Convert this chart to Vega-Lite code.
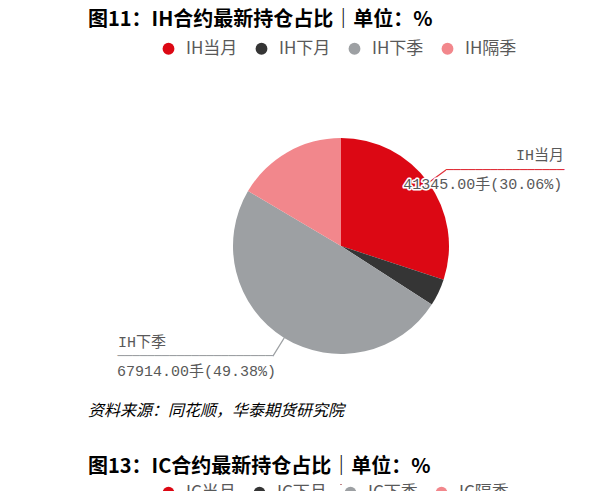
{
  "$schema": "https://vega.github.io/schema/vega-lite/v6.json",
  "background": "white",
  "padding": {"left": 88, "top": 10, "right": 5, "bottom": 0},
  "datasets": {
    "ih": [
      {"name": "IH当月", "value": 41345, "k": 1, "label": "41345.00手(30.06%)"},
      {"name": "IH下月", "value": 5584, "k": 2, "label": ""},
      {"name": "IH下季", "value": 67914, "k": 3, "label": "67914.00手(49.38%)"},
      {"name": "IH隔季", "value": 22698, "k": 4, "label": ""}
    ],
    "ic": [
      {"name": "IC当月"},
      {"name": "IC下月"},
      {"name": "IC下季"},
      {"name": "IC隔季"}
    ]
  },
  "title": {
    "text": "图11：IH合约最新持仓占比｜单位：%",
    "anchor": "start",
    "font": "Noto Sans CJK SC",
    "fontSize": 20,
    "fontWeight": "bold",
    "color": "#000000",
    "offset": 10
  },
  "vconcat": [
    {
      "width": 506,
      "height": 306,
      "data": {"name": "ih"},
      "title": {
        "text": "资料来源：同花顺，华泰期货研究院",
        "orient": "bottom",
        "anchor": "start",
        "font": "Noto Sans CJK SC",
        "fontSize": 16,
        "fontStyle": "italic",
        "fontWeight": "normal",
        "color": "#000000",
        "offset": 4
      },
      "encoding": {
        "theta": {"field": "value", "type": "quantitative", "stack": true},
        "order": {"field": "k", "type": "quantitative"},
        "detail": {"field": "name", "type": "nominal"}
      },
      "layer": [
        {
          "mark": {"type": "arc", "radius": 108},
          "encoding": {
            "color": {
              "field": "name",
              "type": "nominal",
              "scale": {
                "domain": ["IH当月", "IH下月", "IH下季", "IH隔季"],
                "range": ["#DC0814", "#353535", "#9DA0A3", "#F2878C"]
              },
              "legend": {
                "orient": "none",
                "legendX": 72,
                "legendY": -53,
                "direction": "horizontal",
                "title": null,
                "symbolType": "circle",
                "symbolSize": 140,
                "symbolStrokeWidth": 0,
                "labelFont": "Noto Sans CJK SC",
                "labelFontSize": 17,
                "labelColor": "#595959",
                "labelOffset": 9,
                "columnPadding": 15,
                "padding": 0
              }
            }
          }
        },
        {
          "mark": {"type": "arc", "radius": 129.5, "radius2": 108, "padAngle": 3.1, "filled": false, "strokeWidth": 1.2},
          "encoding": {
            "color": {
              "condition": [
                {"test": "datum.name === 'IH当月'", "value": "#E0303A"},
                {"test": "datum.name === 'IH下季'", "value": "#9DA0A3"}
              ],
              "value": "transparent"
            }
          }
        },
        {
          "mark": {"type": "text", "radius": 129.5, "align": "left", "baseline": "alphabetic", "dy": 4.3, "font": "DejaVu Sans Mono", "fontSize": 12.3},
          "encoding": {
            "text": {"condition": {"test": "datum.name === 'IH当月'", "value": "────────────────"}, "value": ""},
            "color": {"value": "#E0303A"}
          }
        },
        {
          "mark": {"type": "text", "radius": 129.5, "align": "right", "baseline": "alphabetic", "dy": 4.3, "font": "DejaVu Sans Mono", "fontSize": 12.3},
          "encoding": {
            "text": {"condition": {"test": "datum.name === 'IH下季'", "value": "─────────────────────"}, "value": ""},
            "color": {"value": "#9DA0A3"}
          }
        },
        {
          "mark": {"type": "text", "radius": 129.5, "align": "right", "baseline": "alphabetic", "dx": 118, "dy": -10, "font": "'Liberation Mono', 'Noto Sans CJK SC'", "fontSize": 15},
          "encoding": {
            "text": {"condition": {"test": "datum.name === 'IH当月'", "field": "name", "type": "nominal"}, "value": ""},
            "color": {"value": "#595959"}
          }
        },
        {
          "mark": {"type": "text", "radius": 129.5, "align": "left", "baseline": "alphabetic", "dx": -155, "dy": -8.7, "font": "'Liberation Mono', 'Noto Sans CJK SC'", "fontSize": 15},
          "encoding": {
            "text": {"condition": {"test": "datum.name === 'IH下季'", "field": "name", "type": "nominal"}, "value": ""},
            "color": {"value": "#595959"}
          }
        },
        {
          "mark": {"type": "text", "radius": 129.5, "align": "right", "baseline": "alphabetic", "dx": 116.4, "dy": 19, "font": "'Liberation Mono', 'Noto Sans CJK SC'", "fontSize": 15, "stroke": "white", "strokeWidth": 3, "strokeJoin": "round"},
          "encoding": {
            "text": {"condition": {"test": "datum.name === 'IH当月'", "field": "label", "type": "nominal"}, "value": ""},
            "color": {"value": "#ffffff"}
          }
        },
        {
          "mark": {"type": "text", "radius": 129.5, "align": "right", "baseline": "alphabetic", "dx": 116.4, "dy": 19, "font": "'Liberation Mono', 'Noto Sans CJK SC'", "fontSize": 15},
          "encoding": {
            "text": {"condition": {"test": "datum.name === 'IH当月'", "field": "label", "type": "nominal"}, "value": ""},
            "color": {"value": "#595959"}
          }
        },
        {
          "mark": {"type": "text", "radius": 129.5, "align": "left", "baseline": "alphabetic", "dx": -156, "dy": 20, "font": "'Liberation Mono', 'Noto Sans CJK SC'", "fontSize": 15},
          "encoding": {
            "text": {"condition": {"test": "datum.name === 'IH下季'", "field": "label", "type": "nominal"}, "value": ""},
            "color": {"value": "#595959"}
          }
        }
      ]
    },
    {
      "width": 506,
      "height": 1,
      "data": {"name": "ic"},
      "title": {
        "text": "图13：IC合约最新持仓占比｜单位：%",
        "anchor": "start",
        "font": "Noto Sans CJK SC",
        "fontSize": 20,
        "fontWeight": "bold",
        "color": "#000000",
        "offset": 7
      },
      "mark": {"type": "arc", "radius": 0.5},
      "encoding": {
        "color": {
          "field": "name",
          "type": "nominal",
          "scale": {
            "domain": ["IC当月", "IC下月", "IC下季", "IC隔季"],
            "range": ["#DC0814", "#353535", "#9DA0A3", "#F2878C"]
          },
          "legend": {
            "orient": "none",
            "legendX": 72,
            "legendY": 0,
            "direction": "horizontal",
            "title": null,
            "symbolType": "circle",
            "symbolSize": 140,
            "symbolStrokeWidth": 0,
            "labelFont": "Noto Sans CJK SC",
            "labelFontSize": 17,
            "labelColor": "#595959",
            "labelOffset": 9,
            "columnPadding": 15,
            "padding": 0
          }
        }
      }
    }
  ],
  "spacing": 38,
  "resolve": {"scale": {"color": "independent"}, "legend": {"color": "independent"}},
  "config": {"view": {"stroke": null}}
}
